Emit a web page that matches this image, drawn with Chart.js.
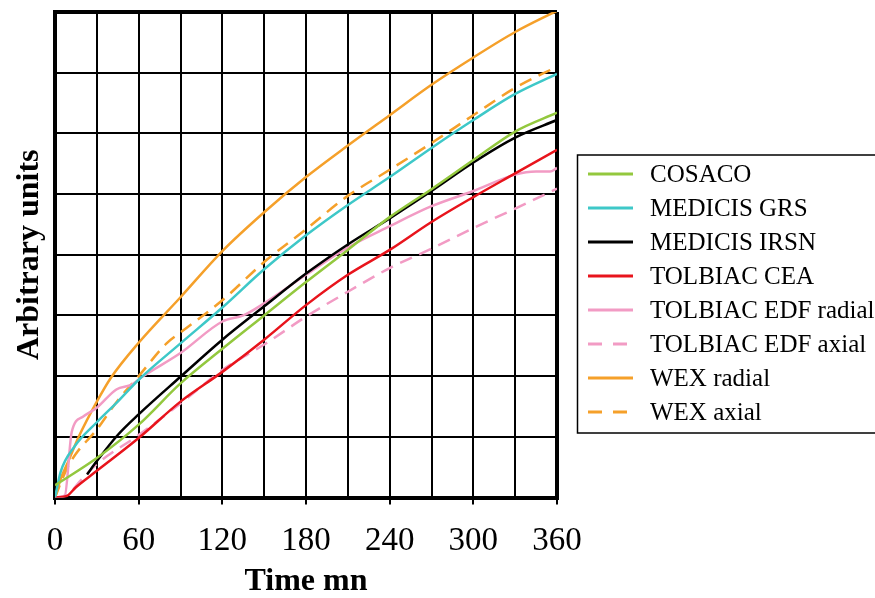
<!DOCTYPE html>
<html><head><meta charset="utf-8">
<script src="https://cdn.jsdelivr.net/npm/chart.js@4"></script>
<style>html,body{margin:0;padding:0;background:#fff;}#wrap{width:875px;height:598px;position:relative;}</style>
</head><body><div id="wrap"><canvas id="c" width="875" height="598"></canvas></div>
<script>
// ---- data (time in minutes, value in arbitrary units) ----
const xTickLabels = [0, 60, 120, 180, 240, 300, 360];
const seriesNames = ["COSACO", "MEDICIS GRS", "MEDICIS IRSN", "TOLBIAC CEA", "TOLBIAC EDF radial", "TOLBIAC EDF axial", "WEX radial", "WEX axial"];

const cosacoT = [0, 30, 60, 90, 120, 150, 180, 210, 240, 270, 300, 330, 360];
const cosacoV = [0.2, 0.65, 1.2, 1.88, 2.45, 3.0, 3.55, 4.08, 4.62, 5.08, 5.56, 6.03, 6.34];

const grsT = [0, 4, 14, 30, 45, 60, 90, 120, 150, 180, 210, 240, 270, 300, 330, 360];
const grsV = [0, 0.42, 0.84, 1.24, 1.58, 1.94, 2.54, 3.13, 3.76, 4.32, 4.82, 5.28, 5.76, 6.22, 6.65, 6.98];

const irsnT = [23, 30, 45, 60, 90, 120, 150, 180, 210, 240, 270, 300, 330, 360];
const irsnV = [0.38, 0.6, 1.03, 1.37, 1.99, 2.6, 3.15, 3.69, 4.17, 4.6, 5.05, 5.52, 5.93, 6.22];

const ceaT = [0, 8, 15, 30, 60, 90, 120, 150, 180, 210, 240, 270, 300, 330, 360];
const ceaV = [0, 0.02, 0.17, 0.44, 0.98, 1.58, 2.07, 2.6, 3.17, 3.67, 4.08, 4.54, 4.95, 5.34, 5.73];

const edfRadT = [0, 7, 12, 20, 30, 44, 55, 62, 90, 120, 135, 150, 180, 210, 240, 270, 300, 330, 345, 355, 360];
const edfRadV = [0, 0.03, 1.08, 1.33, 1.48, 1.78, 1.86, 1.98, 2.38, 2.9, 3.0, 3.2, 3.67, 4.12, 4.47, 4.8, 5.05, 5.32, 5.37, 5.37, 5.43];

const edfAxT = [0, 8, 18, 30, 60, 90, 120, 150, 180, 210, 240, 270, 300, 330, 360];
const edfAxV = [0, 0.03, 0.27, 0.55, 1.03, 1.55, 2.1, 2.52, 2.98, 3.39, 3.78, 4.1, 4.44, 4.76, 5.09];

const wexRadT = [0, 4, 10, 17, 30, 40, 60, 90, 120, 150, 180, 210, 240, 270, 300, 330, 360];
const wexRadV = [0, 0.3, 0.62, 1.0, 1.58, 1.97, 2.55, 3.3, 4.06, 4.7, 5.28, 5.8, 6.3, 6.8, 7.25, 7.67, 8.02];

const wexAxT = [0, 8, 15, 30, 45, 60, 80, 90, 120, 150, 180, 210, 240, 270, 300, 330, 360];
const wexAxV = [0, 0.45, 0.72, 1.12, 1.6, 2.0, 2.54, 2.72, 3.25, 3.88, 4.42, 4.97, 5.4, 5.84, 6.3, 6.75, 7.1];

// ---- styles ----
const GREEN = '#93c83e', CYAN = '#3ec8c8', BLACK = '#000000', RED = '#e8141c', PINK = '#f29bc4', ORANGE = '#f5a02a';
const DASH = [13, 8];

function pts(t, v) { return t.map((x, i) => ({ x: x, y: v[i] })); }
function ds(name, t, v, color, dashed) {
  return {
    label: name, data: pts(t, v), borderColor: color, backgroundColor: color,
    borderWidth: 2.5, pointRadius: 0, fill: false, cubicInterpolationMode: 'monotone',
    borderDash: dashed ? DASH : [], legendDash: dashed
  };
}

const datasets = [
  ds(seriesNames[0], cosacoT, cosacoV, GREEN, false),
  ds(seriesNames[1], grsT, grsV, CYAN, false),
  ds(seriesNames[2], irsnT, irsnV, BLACK, false),
  ds(seriesNames[3], ceaT, ceaV, RED, false),
  ds(seriesNames[4], edfRadT, edfRadV, PINK, false),
  ds(seriesNames[5], edfAxT, edfAxV, PINK, true),
  ds(seriesNames[6], wexRadT, wexRadV, ORANGE, false),
  ds(seriesNames[7], wexAxT, wexAxV, ORANGE, true)
];

const boxLegend = {
  id: 'boxLegend',
  afterDraw(chart) {
    const ctx = chart.ctx;
    ctx.save();
    ctx.strokeStyle = '#000'; ctx.lineWidth = 1.5; ctx.setLineDash([]);
    ctx.strokeRect(577.5, 155, 310, 278);
    ctx.font = '25px "Liberation Serif", "Times New Roman", serif';
    ctx.textBaseline = 'middle'; ctx.textAlign = 'left'; ctx.fillStyle = '#000';
    chart.data.datasets.forEach((d, i) => {
      const y = 174 + i * 34;
      ctx.beginPath();
      ctx.strokeStyle = d.borderColor; ctx.lineWidth = 3;
      ctx.setLineDash(d.legendDash ? [14, 11] : []);
      ctx.moveTo(588, y); ctx.lineTo(633, y); ctx.stroke();
      ctx.setLineDash([]);
      ctx.fillText(d.label, 650, y + 1);
    });
    ctx.restore();
  }
};

new Chart(document.getElementById('c'), {
  type: 'line',
  data: { datasets: datasets },
  plugins: [boxLegend],
  options: {
    responsive: false, animation: false, devicePixelRatio: 1,
    layout: { padding: { top: 12, right: 318, left: 0, bottom: 0 } },
    plugins: { legend: { display: false }, tooltip: { enabled: false } },
    scales: {
      x: {
        type: 'linear', min: 0, max: 360,
        afterFit: s => { s.height = 100.5; },
        border: { display: true, color: '#000', width: 4 },
        grid: {
          color: '#000',
          lineWidth: c => (c.tick && (c.tick.value === 0 || c.tick.value === 360)) ? 4 : 2,
          drawTicks: true, tickLength: 7, tickWidth: 2,
          tickColor: c => (c.tick && xTickLabels.includes(c.tick.value)) ? '#000' : 'rgba(0,0,0,0)'
        },
        ticks: {
          stepSize: 30, autoSkip: false, maxRotation: 0, padding: 17, color: '#000',
          font: { family: '"Liberation Serif", "Times New Roman", serif', size: 33 },
          callback: v => xTickLabels.includes(v) ? String(v) : ''
        },
        title: {
          display: true, text: 'Time mn', color: '#000', padding: { top: 0, bottom: 0 },
          font: { family: '"Liberation Serif", "Times New Roman", serif', size: 32, weight: 'bold', lineHeight: 1.0 }
        }
      },
      y: {
        type: 'linear', min: 0, max: 8,
        afterFit: s => { s.width = 55; },
        border: { display: true, color: '#000', width: 4 },
        grid: {
          color: '#000',
          lineWidth: c => (c.tick && (c.tick.value === 0 || c.tick.value === 8)) ? 4 : 2,
          drawTicks: false
        },
        ticks: { stepSize: 1, display: false },
        title: {
          display: true, text: 'Arbitrary units', color: '#000', padding: { top: 11, bottom: 0 },
          font: { family: '"Liberation Serif", "Times New Roman", serif', size: 32, weight: 'bold' }
        }
      }
    }
  }
});
</script></body></html>
